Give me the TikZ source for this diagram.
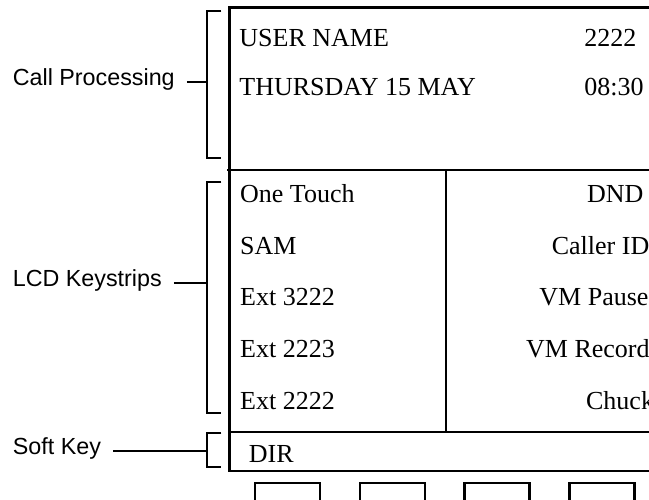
\documentclass[tikz,border=0pt]{standalone}
\usepackage{fontspec}
\setmainfont{Liberation Serif}
\setsansfont{Liberation Sans}
\begin{document}
\begin{tikzpicture}[x=1pt, y=-1pt, line width=2.3pt, lcd/.style={anchor=base west, inner sep=0pt, font=\fontsize{26}{30}\selectfont}, lbl/.style={anchor=base west, inner ysep=0pt, inner xsep=11pt, font=\sffamily\fontsize{23.3}{28}\selectfont}]
\clip (0,0) rectangle (649,500);
% display
\draw (660,7.5) -| (229.5,470.7) -- (660,470.7);
\draw (227,170) -- (660,170);
\draw (229.5,431.7) -- (660,431.7);
\draw (445.7,170) -- (445.7,431.7);
\foreach \k in {0,...,3}{\draw (255+104.8*\k,483) rectangle ++(65,30);}
% call processing area
\node[lcd] (uname) at (238.3,46.7) {USER NAME};
\node[lcd] (ext) at (583.3,46.7) {2222};
\node[lcd] (date) at (238.3,96) {THURSDAY 15 MAY};
\node[lcd] (time) at (583.3,96) {08:30};
% keystrips
\foreach \i/\l/\r/\rx in {0/One Touch/DND/586,1/SAM/Caller ID/550.7,2/Ext 3222/VM Pause/538.3,3/Ext 2223/VM Record/525,4/Ext 2222/Chuck/585}{
  \node[lcd] (kl\i) at (239,202.3+51.75*\i) {\l};
  \node[lcd] (kr\i) at (\rx,202.3+51.75*\i) {\r};}
\node[lcd] (dir) at (247.7,462.7) {DIR};
% brackets
\draw (221.3,11) -| (206.7,158) -- (221.3,158);
\draw (221.3,181.7) -| (206.7,412.7) -- (221.3,412.7);
\draw (221.3,432.7) -| (206.7,466.7) -- (221.3,466.7);
\coordinate (cpb) at (206.7,82);
\coordinate (ksb) at (206.7,282.7);
\coordinate (skb) at (206.7,451);
% labels
\node[lbl] (cp) at (0.7,86) {Call Processing};
\node[lbl] (ks) at (0.7,286.7) {LCD Keystrips};
\node[lbl] (sk) at (0.7,454) {Soft Key};
\draw (cp.east |- cpb) -- (cpb);
\draw (ks.east |- ksb) -- (ksb);
\draw (sk.east |- skb) -- (skb);
\end{tikzpicture}
\end{document}
